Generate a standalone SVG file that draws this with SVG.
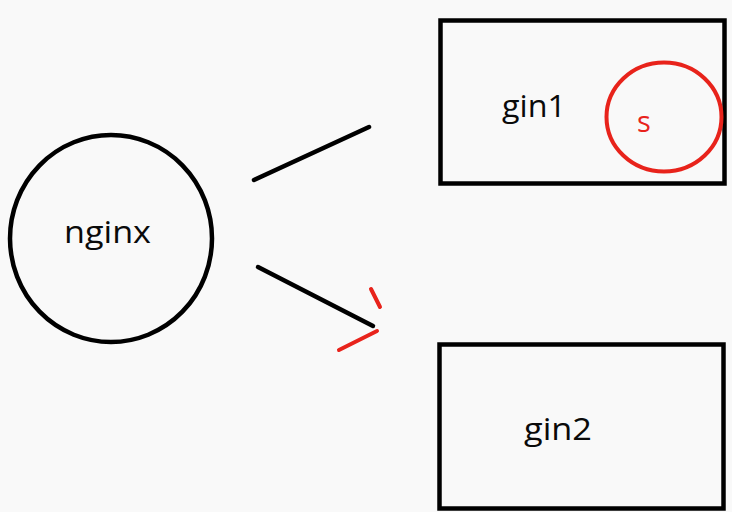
<svg xmlns="http://www.w3.org/2000/svg" width="732" height="512" viewBox="0 0 732 512">
  <style>
    .blk { fill: none; stroke: #000; stroke-width: 4.5; }
    .red { fill: none; stroke: #e8231b; stroke-width: 4; stroke-linecap: round; }
    .conn { stroke: #000; stroke-width: 4.5; stroke-linecap: round; }
    .lbl { font-family: "Open Sans", "Noto Sans", sans-serif; font-size: 31px; fill: #0a0a0a; }
    .rlbl { font-family: "Open Sans", "Noto Sans", sans-serif; font-size: 29px; fill: #e8231b; }
  </style>
  <rect width="732" height="512" fill="#f9f9f9"/>
  <g id="nginx">
    <ellipse class="blk" cx="111" cy="238.5" rx="101" ry="103.5"/>
    <text class="lbl" x="64" y="243" textLength="87" lengthAdjust="spacingAndGlyphs">nginx</text>
  </g>
  <g id="gin1">
    <rect class="blk" x="440.5" y="20.5" width="284" height="163" stroke-width="5"/>
    <text class="lbl" x="502" y="117" textLength="64" lengthAdjust="spacingAndGlyphs">gin1</text>
  </g>
  <g id="s">
    <ellipse class="red" cx="664" cy="117" rx="57.5" ry="54.5"/>
    <text class="rlbl" x="637" y="132">s</text>
  </g>
  <g id="gin2">
    <rect class="blk" x="439.5" y="344.5" width="284" height="164" stroke-width="5"/>
    <text class="lbl" x="524" y="440" textLength="68" lengthAdjust="spacingAndGlyphs">gin2</text>
  </g>
  <g id="connectors">
    <line class="conn" x1="254" y1="180" x2="369" y2="127"/>
    <line class="conn" x1="258" y1="267" x2="373" y2="326"/>
    <line class="red" x1="371" y1="289" x2="380" y2="307"/>
    <line class="red" x1="339" y1="350" x2="377" y2="331"/>
  </g>
</svg>
